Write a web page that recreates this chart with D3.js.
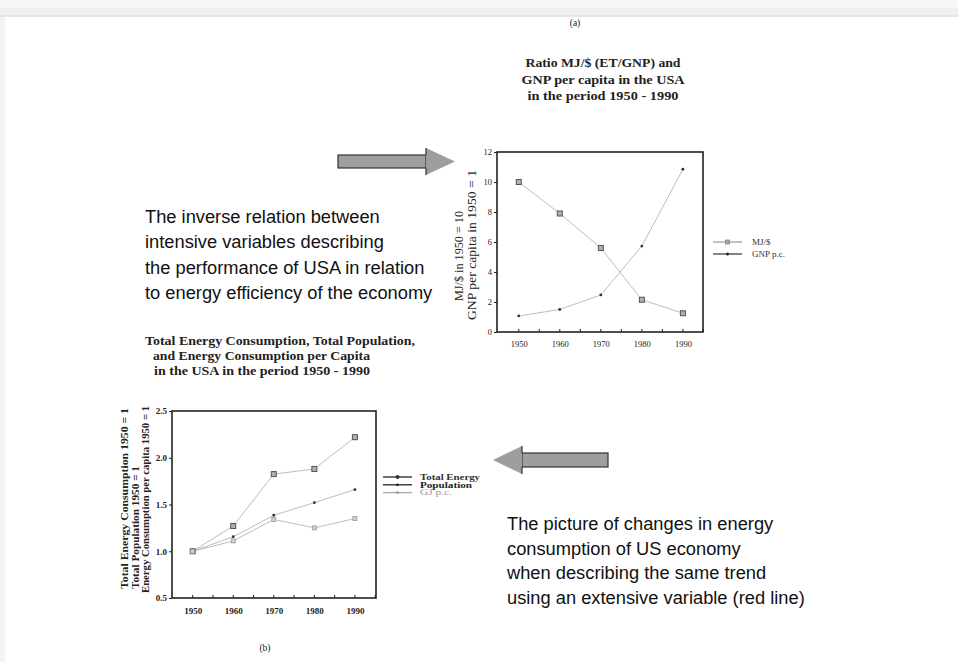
<!DOCTYPE html>
<html><head><meta charset="utf-8">
<script src="https://cdn.jsdelivr.net/npm/d3@7"></script>
<style>
html,body{margin:0;padding:0;background:#fff;}
svg{display:block;}
</style></head>
<body>
<svg id="c" width="958" height="662"></svg>
<script>
// ---------- data ----------
const years = [1950, 1960, 1970, 1980, 1990];
const mjPerDollar = [10.0, 7.9, 5.6, 2.15, 1.25];
const gnpPerCapita = [1.07, 1.5, 2.47, 5.73, 10.85];
const totalEnergy = [1.0, 1.27, 1.825, 1.88, 2.22];
const population = [1.0, 1.155, 1.385, 1.52, 1.66];
const gjPerCapita = [1.0, 1.11, 1.34, 1.25, 1.35];
const yTicksA = [0, 2, 4, 6, 8, 10, 12];
const yTicksB = [0.5, 1.0, 1.5, 2.0, 2.5];
const yTickLabelsB = ["0.5", "1.0", "1.5", "2.0", "2.5"];
const titleA = ["Ratio MJ/$ (ET/GNP) and", "GNP per capita in the USA", "in the period  1950 - 1990"];
const titleB = ["Total Energy Consumption, Total Population,", "and Energy Consumption per Capita", "in the USA in the period  1950 - 1990"];
const yLabelA = ["MJ/$ in 1950 = 10", "GNP per capita in 1950 = 1"];
const yLabelB = ["Total Energy Consumption  1950 = 1", "Total Population 1950 = 1", "Energy Consumption per capita 1950 = 1"];
const legendA = ["MJ/$", "GNP p.c."];
const legendB = ["Total Energy", "Population", "GJ p.c."];
const textLeft = ["The inverse relation between", "intensive variables describing", "the performance of USA in relation", "to energy efficiency of the economy"];
const textRight = ["The picture of changes in energy", "consumption of US economy", "when describing the same trend", "using an extensive variable (red line)"];

const svg = d3.select("#c");
const SERIF = "'Liberation Serif', 'Times New Roman', serif";
const SANS = "'Liberation Sans', Arial, sans-serif";
const LINE = "#bdbdbd";

// ---------- page frame ----------
svg.append("rect").attr("x",0).attr("y",0).attr("width",958).attr("height",8).attr("fill","#f7f7f7");
svg.append("rect").attr("x",0).attr("y",8).attr("width",958).attr("height",7).attr("fill","#f0f0f0");
svg.append("rect").attr("x",0).attr("y",15).attr("width",958).attr("height",2).attr("fill","#e6e6e6");
svg.append("rect").attr("x",0).attr("y",17).attr("width",5).attr("height",645).attr("fill","#f4f4f4");

svg.append("text").attr("x",575).attr("y",26).attr("text-anchor","middle")
  .attr("font-family",SERIF).attr("font-size",9.5).attr("fill","#222").text("(a)");
svg.append("text").attr("x",265).attr("y",651).attr("text-anchor","middle")
  .attr("font-family",SERIF).attr("font-size",9.5).attr("fill","#222").text("(b)");

// ---------- generic chart drawer ----------
function drawChart(cfg){
  const g = svg.append("g");
  const x = d3.scaleLinear().domain(cfg.xDomain).range([cfg.left, cfg.right]);
  const y = d3.scaleLinear().domain(cfg.yDomain).range([cfg.bottom, cfg.top]);

  const minorX = d3.range(1950, 1996, 5);
  g.selectAll(".mx").data(minorX).enter().append("line")
    .attr("x1",d=>x(d)).attr("x2",d=>x(d))
    .attr("y1",cfg.bottom).attr("y2",cfg.bottom-3)
    .attr("stroke","#222").attr("stroke-width",1);

  const yAxis = d3.axisLeft(y).tickValues(cfg.yTicks).tickSize(3).tickPadding(2)
    .tickFormat((d,i)=>cfg.yTickLabels ? cfg.yTickLabels[i] : d);
  const ya = g.append("g").attr("transform",`translate(${cfg.left},0)`).call(yAxis);
  ya.select(".domain").remove();
  ya.selectAll("text").attr("font-family",SERIF).attr("font-size",cfg.yTickFont)
    .attr("font-weight",cfg.tickWeight).attr("fill","#222");
  ya.selectAll("line").attr("stroke","#222");

  const xAxis = d3.axisBottom(x).tickValues(years).tickSize(0).tickPadding(cfg.xPad).tickFormat(d3.format("d"));
  const xa = g.append("g").attr("transform",`translate(0,${cfg.bottom})`).call(xAxis);
  xa.select(".domain").remove();
  xa.selectAll("text").attr("font-family",SERIF).attr("font-size",cfg.xTickFont)
    .attr("font-weight",cfg.tickWeight).attr("fill","#222");

  g.append("rect").attr("x",cfg.left).attr("y",cfg.top)
    .attr("width",cfg.right-cfg.left).attr("height",cfg.bottom-cfg.top)
    .attr("fill","none").attr("stroke","#222").attr("stroke-width",1.6);

  const line = d3.line().x((d,i)=>x(years[i])).y(d=>y(d));
  cfg.series.forEach(s=>{
    g.append("path").datum(s.values).attr("d",line)
      .attr("fill","none").attr("stroke",LINE).attr("stroke-width",1);
  });
  cfg.series.forEach(s=>{
    s.values.forEach((v,i)=>drawMarker(g, x(years[i]), y(v), s.marker));
  });
  return {x,y};
}

function drawMarker(g, cx, cy, type){
  if(type==="square"){
    g.append("rect").attr("x",cx-2.5).attr("y",cy-2.5).attr("width",5).attr("height",5)
      .attr("fill","#b0b0b0").attr("stroke","#555").attr("stroke-width",1);
  } else if(type==="lightsquare"){
    g.append("rect").attr("x",cx-2).attr("y",cy-2).attr("width",4).attr("height",4)
      .attr("fill","#d0d0d0").attr("stroke","#999").attr("stroke-width",0.8);
  } else {
    g.append("circle").attr("cx",cx).attr("cy",cy).attr("r",1.4).attr("fill","#333");
  }
}

// ---------- chart (a) ----------
drawChart({
  left:497, right:703, top:152, bottom:332,
  xDomain:[1944.7,1994.9], yDomain:[0,12], yTicks:yTicksA,
  xTickFont:8.5, yTickFont:8.5, tickWeight:"normal", xPad:9,
  series:[{values:mjPerDollar, marker:"square"},{values:gnpPerCapita, marker:"dot"}]
});

// ---------- chart (b) ----------
drawChart({
  left:172, right:376, top:411, bottom:598,
  xDomain:[1944.9,1995.2], yDomain:[0.5,2.5], yTicks:yTicksB, yTickLabels:yTickLabelsB,
  xTickFont:9, yTickFont:9, tickWeight:"bold", xPad:10,
  series:[{values:totalEnergy, marker:"square"},{values:population, marker:"dot"},{values:gjPerCapita, marker:"lightsquare"}]
});

// ---------- titles ----------
const titleAWidths = [155, 163, 151];
titleA.forEach((t,i)=>{
  svg.append("text").attr("x",603).attr("y",67+i*16.5).attr("text-anchor","middle")
    .attr("font-family",SERIF).attr("font-weight","bold").attr("font-size",13.5).attr("fill","#222")
    .attr("textLength",titleAWidths[i]).attr("lengthAdjust","spacingAndGlyphs").text(t);
});
const titleBx = [145, 153, 154];
const titleBWidths = [270, 217, 216];
titleB.forEach((t,i)=>{
  svg.append("text").attr("x",titleBx[i]).attr("y",345+i*15).attr("text-anchor","start")
    .attr("font-family",SERIF).attr("font-weight","bold").attr("font-size",13).attr("fill","#222")
    .attr("textLength",titleBWidths[i]).attr("lengthAdjust","spacingAndGlyphs").text(t);
});

// ---------- y axis labels ----------
const yLabAx = [463, 476];
const yLabAWidths = [90, 150];
yLabelA.forEach((t,i)=>{
  svg.append("text").attr("transform",`translate(${yLabAx[i]},${[256,245][i]}) rotate(-90)`)
    .attr("text-anchor","middle").attr("font-family",SERIF).attr("font-size",11.5).attr("fill","#222")
    .attr("textLength",yLabAWidths[i]).attr("lengthAdjust","spacingAndGlyphs").text(t);
});
const yLabBx = [128, 139, 149];
const yLabBWidths = [181, 123, 187];
yLabelB.forEach((t,i)=>{
  svg.append("text").attr("transform",`translate(${yLabBx[i]},${[589,589,593][i]}) rotate(-90)`)
    .attr("text-anchor","start").attr("font-family",SERIF).attr("font-weight","bold")
    .attr("font-size",10.5).attr("fill","#222")
    .attr("textLength",yLabBWidths[i]).attr("lengthAdjust","spacingAndGlyphs").text(t);
});

// ---------- legends ----------
const legA = svg.append("g");
const legAStyles = [{stroke:"#999"},{stroke:"#333"}];
legendA.forEach((t,i)=>{
  const yy = 242 + i*12;
  legA.append("line").attr("x1",713).attr("x2",742).attr("y1",yy).attr("y2",yy)
    .attr("stroke",legAStyles[i].stroke).attr("stroke-width",1.2);
  if(i===0){
    legA.append("rect").attr("x",725.5).attr("y",yy-2).attr("width",4).attr("height",4).attr("fill","#aaa").attr("stroke","#777").attr("stroke-width",0.7);
  } else {
    legA.append("circle").attr("cx",727.5).attr("cy",yy).attr("r",1.5).attr("fill","#222");
  }
  legA.append("text").attr("x",752).attr("y",yy+3).attr("font-family",SERIF).attr("font-size",9)
    .attr("fill","#333").text(t);
});

const legB = svg.append("g");
const legBStyles = [{stroke:"#333", fill:"#333", bold:true},{stroke:"#333", fill:"#222", bold:true},{stroke:"#aaa", fill:"#999", bold:false}];
const legBWidths = [60, 52, 32];
legendB.forEach((t,i)=>{
  const yy = 477 + i*7.8;
  legB.append("line").attr("x1",383).attr("x2",412).attr("y1",yy).attr("y2",yy)
    .attr("stroke",legBStyles[i].stroke).attr("stroke-width",1.4);
  legB.append("circle").attr("cx",397.5).attr("cy",yy).attr("r",i===0?2:1.4).attr("fill",legBStyles[i].fill);
  legB.append("text").attr("x",420).attr("y",yy+2.7).attr("font-family",SERIF).attr("font-size",8)
    .attr("font-weight",legBStyles[i].bold?"bold":"normal").attr("fill",legBStyles[i].fill)
    .attr("textLength",legBWidths[i]).attr("lengthAdjust","spacingAndGlyphs").text(t);
});

// ---------- arrows ----------
const ARROW_FILL = "#9e9e9e";
svg.append("rect").attr("x",338).attr("y",155).attr("width",88).attr("height",13)
  .attr("fill",ARROW_FILL).attr("stroke","#333").attr("stroke-width",1.2);
svg.append("path").attr("d","M426,148 L455,161.5 L426,175 Z").attr("fill",ARROW_FILL);
svg.append("line").attr("x1",426).attr("x2",426).attr("y1",148).attr("y2",155).attr("stroke","#333").attr("stroke-width",1.2);
svg.append("line").attr("x1",426).attr("x2",426).attr("y1",168).attr("y2",175).attr("stroke","#333").attr("stroke-width",1.2);
svg.append("rect").attr("x",522).attr("y",453).attr("width",86).attr("height",14)
  .attr("fill",ARROW_FILL).attr("stroke","#333").attr("stroke-width",1.2);
svg.append("path").attr("d","M522,446 L493,460 L522,474 Z").attr("fill",ARROW_FILL);
svg.append("line").attr("x1",522).attr("x2",522).attr("y1",446).attr("y2",453).attr("stroke","#333").attr("stroke-width",1.2);
svg.append("line").attr("x1",522).attr("x2",522).attr("y1",467).attr("y2",474).attr("stroke","#333").attr("stroke-width",1.2);

// ---------- annotation texts ----------
textLeft.forEach((t,i)=>{
  svg.append("text").attr("x",145).attr("y",223+i*25.3).attr("font-family",SANS)
    .attr("font-size",18.3).attr("fill","#111").text(t);
});
textRight.forEach((t,i)=>{
  svg.append("text").attr("x",507).attr("y",530+i*24.7).attr("font-family",SANS)
    .attr("font-size",18.3).attr("fill","#111").text(t);
});
</script>
</body></html>
